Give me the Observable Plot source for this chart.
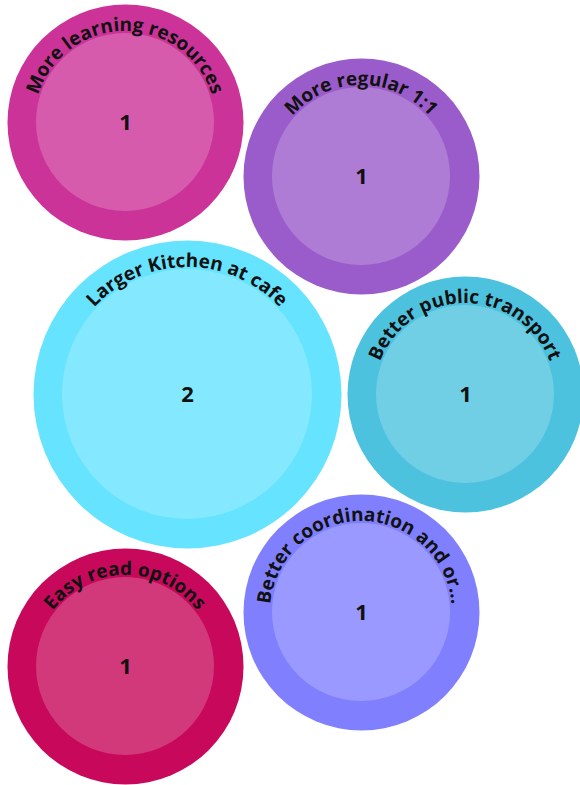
<!DOCTYPE html>
<html>
<head>
<meta charset="utf-8">
<script src="https://cdn.jsdelivr.net/npm/d3@7"></script>
<script src="https://cdn.jsdelivr.net/npm/@observablehq/plot@0.6"></script>
<style>
  html, body { margin: 0; padding: 0; background: #fff; }
  #chart svg { display: block; font-family: "Open Sans", "Noto Sans", sans-serif; }
</style>
</head>
<body>
<div id="chart"></div>
<script>
// Data
const categories = [
  "More learning resources",
  "More regular 1:1",
  "Larger Kitchen at cafe",
  "Better public transport",
  "Better coordination and or...",
  "Easy read options"
];
const counts = [1, 1, 2, 1, 1, 1];
const colors = ["#CC3399", "#9B5CCB", "#66E3FF", "#4DC2DF", "#8080FF", "#C7085B"];
// bubble layout centres (in chart units)
const layoutX = [125, 361, 187, 465, 361, 125];
const layoutY = [122, 176, 394, 394, 612, 666];

const data = categories.map((name, i) => ({
  name, value: counts[i], color: colors[i], lx: layoutX[i], ly: layoutY[i]
}));

const ring = 29;     // ring width of the outer band
const labelInset = 27; // baseline radius inset for curved label

function curvedLabels(index, scales, values, dimensions, context, next) {
  const g = d3.create("svg:g");
  for (const i of index) {
    const cx = values.x[i], cy = values.y[i], r = values.r[i];
    g.append("circle")
      .attr("cx", cx).attr("cy", cy).attr("r", r - ring)
      .attr("fill", "#fff").attr("fill-opacity", 0.2);
    const rt = r - labelInset;
    const id = "arc-" + i;
    g.append("path")
      .attr("id", id)
      .attr("fill", "none")
      .attr("d", `M${cx},${cy + rt} A${rt},${rt} 0 1 1 ${cx},${cy - rt} A${rt},${rt} 0 1 1 ${cx},${cy + rt}`);
    g.append("text")
      .attr("font-size", 19)
      .attr("font-weight", 700)
      .attr("fill", "#111")
      .append("textPath")
      .attr("href", "#" + id)
      .attr("startOffset", "50%")
      .attr("text-anchor", "middle")
      .text(data[i].name);
  }
  return g.node();
}

const chart = Plot.plot({
  width: 580,
  height: 785,
  margin: 0,
  x: { domain: [0, 580], range: [0, 580], axis: null },
  y: { domain: [0, 785], range: [0, 785], axis: null },
  r: { type: "linear", domain: [1, 2], range: [118, 154] },
  color: { type: "identity" },
  marks: [
    Plot.dot(data, { x: "lx", y: "ly", r: "value", fill: "color", stroke: null }),
    Plot.dot(data, { x: "lx", y: "ly", r: "value", fill: "none", render: curvedLabels }),
    Plot.text(data, {
      x: "lx", y: "ly", text: d => String(d.value),
      fontSize: 22, fontWeight: 700, fill: "#111"
    })
  ]
});

document.getElementById("chart").appendChild(chart);
</script>
</body>
</html>
